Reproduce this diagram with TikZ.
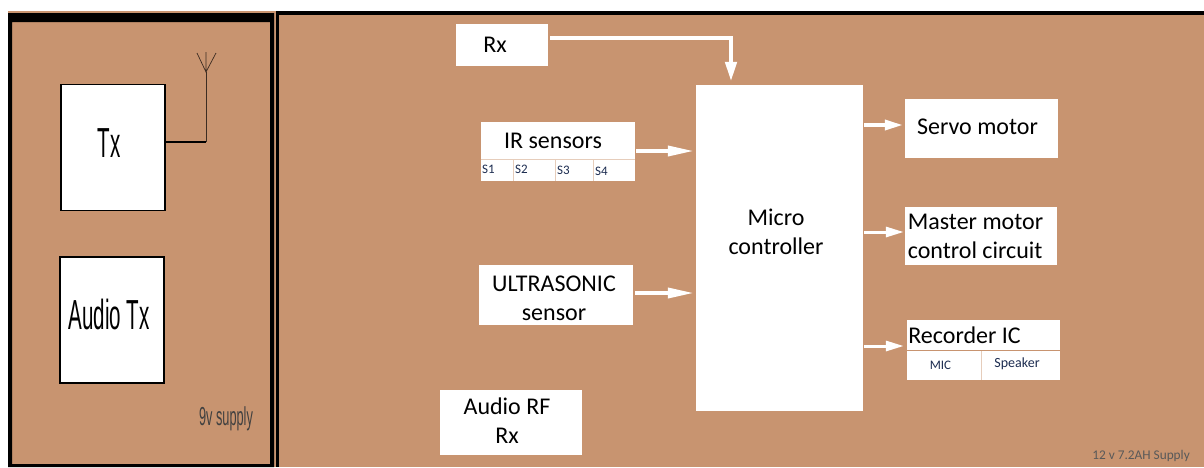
\documentclass[tikz,border=0pt]{standalone}
\usepackage{fontspec}
\setmainfont{Carlito}
\newfontfamily\narrowfont{Liberation Sans}
\usetikzlibrary{arrows.meta}
\definecolor{boardbrown}{HTML}{C89470}
\definecolor{celltext}{HTML}{1C2C50}
\definecolor{cellgap}{HTML}{E6CDBB}
\newcommand{\bigfont}{\fontsize{24}{29}\selectfont}
\newcommand{\cellfont}{\fontsize{13}{15}\selectfont}
\tikzset{
  whitebox/.style={fill=white, inner sep=0pt, align=center, font=\bigfont},
  cellbox/.style={fill=white, inner sep=0pt, font=\cellfont, text=celltext},
  txbox/.style={whitebox, draw=black, line width=1.2pt, minimum width=104pt, minimum height=126pt},
  narrowlabel/.style={inner sep=0pt, xscale=.49, transform shape},
  feed/.style={draw=white, line width=3.6pt, -{Triangle[length=26pt, width=10pt]}},
  feedshort/.style={feed, -{Triangle[length=18pt, width=10pt]}},
  wire/.style={draw=black, line width=1.1pt},
}
\begin{document}
\begin{tikzpicture}[x=1pt, y=-1pt]
  \useasboundingbox (0,0) rectangle (1204,467);

  % two boards
  \fill [color=boardbrown] (8,11) rectangle (275,467);
  \fill [color=boardbrown] (275,11) rectangle (1204,467);
  \fill [color=black, even odd rule] (8,13) rectangle (274,467) (12,22) rectangle (270,464);
  \fill [color=black] (276,11) rectangle (279,467);
  \fill [color=black] (276,11) rectangle (1204,15);

  % transmitter side
  \node [txbox] (tx) at (113,147.5) {};
  \node [narrowlabel, font=\narrowfont\fontsize{42}{42}\selectfont] (txtext) at (109,143) {Tx};
  \node [txbox] (audiotx) at (112,320) {};
  \node [narrowlabel, font=\narrowfont\fontsize{42}{42}\selectfont] (audiotxtext) at (109,314) {Audio Tx};
  \node [narrowlabel, font=\narrowfont\fontsize{26}{26}\selectfont, text=black!75] (ninev) at (226,419) {9v supply};

  \coordinate (mast) at (206,142);
  \coordinate (feedpt) at (206,72);
  \coordinate (tipl) at (197,53);
  \coordinate (tipm) at (206,52);
  \coordinate (tipr) at (216,53);
  \draw [wire] (tx.east |- mast) -- (mast);
  \draw [color=black!70!boardbrown, line width=.9pt] (mast) -- (feedpt);
  \draw [color=black!70!boardbrown, line width=.7pt] (tipl) -- (feedpt) -- (tipr) (tipm) -- (feedpt);

  % receiver side
  \node [whitebox, minimum width=92pt, minimum height=42pt] (rx) at (502,45) {\hspace*{-14pt}Rx};
  \node [whitebox, minimum width=167pt, minimum height=326pt] (mcu) at (779.5,248) {\hspace*{-7pt}Micro\\\hspace*{-7pt}controller\\[3pt]~};

  \fill [color=cellgap] (481,158) rectangle (635,181);
  \node [whitebox, minimum width=154pt, minimum height=37pt] (ir) at (558,140.5) {\hspace*{-10pt}IR sensors};
  \node [cellbox, minimum width=32pt, minimum height=21pt] (sone) at (497,170.5) {};
  \node [cellbox, minimum width=41pt, minimum height=21pt] (stwo) at (534.5,170.5) {};
  \node [cellbox, minimum width=37pt, minimum height=21pt] (sthree) at (574.5,170.5) {};
  \node [cellbox, minimum width=41pt, minimum height=21pt] (sfour) at (614.5,170.5) {};
  \foreach \cellname/\cellx/\celly/\celltxt in {sone/482/169/S1, stwo/515/169/S2, sthree/557/170/S3, sfour/595/171/S4}
    \node [cellbox, fill=none, anchor=west] (\cellname text) at (\cellx,\celly) {\celltxt};

  \node [whitebox, minimum width=154pt, minimum height=60pt] (ultra) at (556,295) {\rule{0pt}{22pt}\hspace*{-4pt}ULTRASONIC\\\hspace*{-4pt}sensor};
  \node [whitebox, minimum width=142pt, minimum height=65pt] (audiorf) at (511,422.5) {\hspace*{-8pt}Audio RF\\\hspace*{-8pt}Rx\\[-25pt]~};
  \node [whitebox, minimum width=153pt, minimum height=59pt, text depth=4pt] (servo) at (981.5,128.5) {\hspace*{-8pt}Servo motor};
  \node [whitebox, minimum width=152pt, minimum height=58pt, align=left] (master) at (981,236) {\hspace*{-11pt}Master motor\\\hspace*{-11pt}control circuit};
  \fill [color=cellgap] (907,350) rectangle (1060,380);
  \fill [color=boardbrown] (907,349.5) rectangle (1060,351);
  \node [whitebox, minimum width=153pt, minimum height=30pt] (recorder) at (983.5,335) {\hspace*{-38pt}Recorder IC};
  \node [cellbox, minimum width=74pt, minimum height=29pt] (mic) at (944,365.5) {\hspace*{-7pt}MIC};
  \node [cellbox, minimum width=78pt, minimum height=29pt, text depth=5.5pt] (speaker) at (1021,365.5) {\hspace*{-8pt}\fontsize{14}{15}\selectfont Speaker};
  \node [inner sep=0pt, font=\fontsize{13.3}{13.3}\selectfont, text=black!65, anchor=east] (twelvev) at (1190,456) {12 v 7.2AH Supply};

  % connectors
  \coordinate (rxout) at (550,38);
  \coordinate (rxturn) at (731,38);
  \coordinate (irout) at (636,151);
  \coordinate (ultraout) at (635,293);
  \coordinate (servoout) at (864,125);
  \coordinate (masterout) at (864,232);
  \coordinate (recorderout) at (864,346);
  \draw [feed, line width=4.4pt, -{Triangle[length=20pt, width=11pt]}, shorten >=3pt] (rxout) -- (rxturn) -- (rxturn |- mcu.north);
  \draw [feed, shorten >=2pt] (irout) -- (irout -| mcu.west);
  \draw [feed, shorten >=2pt] (ultraout) -- (ultraout -| mcu.west);
  \draw [feedshort, shorten >=2pt] (servoout) -- (servoout -| servo.west);
  \draw [feedshort, line width=3pt, shorten >=1pt] (masterout) -- (masterout -| master.west);
  \draw [feedshort, line width=3pt, shorten >=3pt] (recorderout) -- (recorderout -| recorder.west);
\end{tikzpicture}
\end{document}
